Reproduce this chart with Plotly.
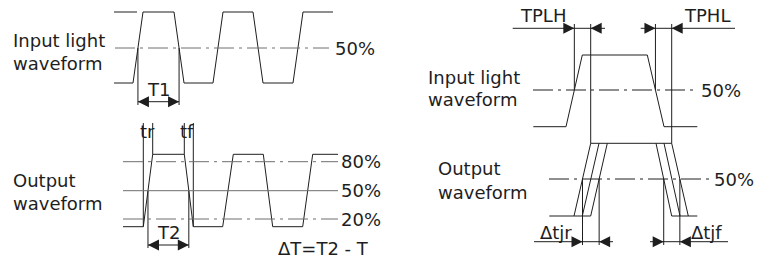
import plotly.graph_objects as go

W, H = 757, 266
FONT = "DejaVu Sans"
INK = "#1e1e1e"
GRAY = "#6e6e6e"
DASHDOT = "20px,5px,3px,5px"

# ---------------- data: waveform vertices (time, level) ----------------
# left, input light waveform
in_t = [114, 133, 143, 174, 184, 213, 223, 253, 263, 293, 303, 333]
in_lvl = [83, 83, 12, 12, 83, 83, 12, 12, 83, 83, 12, 12]
in_ref_t = [114, 137]          # high reference stub
in_half = 48                   # 50 % level

# left, output waveform
out_t = [123, 143.3, 152.7, 184.3, 193.3, 222.7, 233.3, 263.3, 272.7, 302.7, 312.7, 338]
out_lvl = [226.7, 226.7, 154.3, 154.3, 226.7, 226.7, 154.3, 154.3, 226.7, 226.7, 154.3, 154.3]
out_ref_levels = [161.7, 190.7, 219]
out_ref_labels = ["80%", "50%", "20%"]
out_ref_dash = [DASHDOT, "solid", DASHDOT]

# right, input light pulse
rin_t = [533.3, 566, 582.3, 647.3, 664, 697.3]
rin_lvl = [126.7, 126.7, 55, 55, 126.7, 126.7]
rin_half = 90

# right, output pulse with jitter (three rising / falling edges)
rout_hi, rout_lo, rout_half = 143.3, 216, 179
rise_bottom = [574, 582.3, 590.7]
rise_top = [590.7, 599, 607.3]
fall_top = [656, 664, 671.7]
fall_bottom = [671.7, 680, 688.3]
rout_lead = 549.3
rout_tail = 697.3

fig = go.Figure()
segs = {}


def seg(x0, y0, x1, y1, color=INK, dash="solid"):
    key = (color, dash)
    xs, ys = segs.setdefault(key, ([], []))
    xs += [x0, x1, None]
    ys += [y0, y1, None]


def poly(xs_, ys_, color=INK, dash="solid"):
    key = (color, dash)
    xs, ys = segs.setdefault(key, ([], []))
    xs += list(xs_) + [None]
    ys += list(ys_) + [None]


def text(x, y, s, anchor="left"):
    fig.add_annotation(x=x, y=y, text=s, showarrow=False, xanchor=anchor,
                       yanchor="middle", font=dict(family=FONT, size=18, color=INK))


def head(tip, y, direction):
    # direction +1: pointing right, -1: pointing left
    fig.add_annotation(x=tip, y=y, ax=tip - direction * 12, ay=y, axref="x", ayref="y",
                       xref="x", yref="y", text="", showarrow=True, arrowhead=2,
                       arrowsize=2.2, arrowwidth=1, arrowcolor=INK, standoff=0, startstandoff=0)


def cross(xa, ya, xb, yb, level):
    return xa + (xb - xa) * (level - ya) / (yb - ya)


# ---------------- left top: input light ----------------
poly(in_t, in_lvl)
seg(in_ref_t[0], in_lvl[2], in_ref_t[1], in_lvl[2])
seg(115, in_half, 329, in_half, GRAY, DASHDOT)
text(333, in_half, "50%")
t1a = cross(in_t[1], in_lvl[1], in_t[2], in_lvl[2], in_half)
t1b = cross(in_t[3], in_lvl[3], in_t[4], in_lvl[4], in_half)
seg(t1a, in_half, t1a, 105)
seg(t1b, in_half, t1b, 105)
seg(t1a, 101.7, t1b, 101.7)
head(t1a, 101.7, -1)
head(t1b, 101.7, 1)
text((t1a + t1b) / 2, 89, "T1", "center")
text(11, 40, "Input light")
text(11, 63, "waveform")

# ---------------- left bottom: output ----------------
poly(out_t, out_lvl)
for lv, lab, d in zip(out_ref_levels, out_ref_labels, out_ref_dash):
    seg(out_t[0], lv, out_t[-1], lv, GRAY, d)
    text(339, lv, lab)
seg(out_t[1], 123, out_t[1], out_lvl[1])
seg(out_t[2], 123, out_t[2], out_lvl[2])
seg(out_t[3], 123, out_t[3], out_lvl[3])
seg(out_t[4], 123, out_t[4], out_lvl[4])
text(147, 131, "tr", "center")
text(186.5, 131, "tf", "center")
half = out_ref_levels[1]
t2a = cross(out_t[1], out_lvl[1], out_t[2], out_lvl[2], half)
t2b = cross(out_t[3], out_lvl[3], out_t[4], out_lvl[4], half)
seg(t2a, half, t2a, 248)
seg(t2b, half, t2b, 248)
seg(t2a, 245, t2b, 245)
head(t2a, 245, -1)
head(t2b, 245, 1)
text((t2a + t2b) / 2, 232, "T2", "center")
text(276, 248, "ΔT=T2 - T")
text(11, 180, "Output")
text(11, 203, "waveform")

# ---------------- right top: input light ----------------
poly(rin_t, rin_lvl)
seg(533, rin_half, 697, rin_half, INK, DASHDOT)
text(699, rin_half, "50%")
plh = cross(rin_t[1], rin_lvl[1], rin_t[2], rin_lvl[2], rin_half)
phl = cross(rin_t[3], rin_lvl[3], rin_t[4], rin_lvl[4], rin_half)
seg(plh, 24, plh, rin_half)
seg(rise_top[0], 24, rise_top[0], rout_hi)
seg(phl, 24, phl, rin_half)
seg(fall_top[-1], 24, fall_top[-1], rout_hi)
seg(512.7, 28.3, 605, 28.3)
head(plh, 28.3, 1)
head(rise_top[0], 28.3, -1)
seg(640.7, 28.3, 735, 28.3)
head(phl, 28.3, 1)
head(fall_top[-1], 28.3, -1)
text(543, 15, "TPLH", "center")
text(706.5, 15, "TPHL", "center")
text(426, 77, "Input light")
text(426, 99, "waveform")

# ---------------- right bottom: output ----------------
seg(rise_top[0], rout_hi, fall_top[-1], rout_hi)
seg(rout_lead, rout_lo, rise_bottom[-1], rout_lo)
seg(fall_bottom[0], rout_lo, rout_tail, rout_lo)
for b, t in zip(rise_bottom, rise_top):
    seg(b, rout_lo, t, rout_hi)
for t, b in zip(fall_top, fall_bottom):
    seg(t, rout_hi, b, rout_lo)
seg(549, rout_half, 710, rout_half, INK, DASHDOT)
text(712, rout_half, "50%")
jr_a = cross(rise_bottom[0], rout_lo, rise_top[0], rout_hi, rout_half)
jr_b = cross(rise_bottom[-1], rout_lo, rise_top[-1], rout_hi, rout_half)
jf_a = cross(fall_top[0], rout_hi, fall_bottom[0], rout_lo, rout_half)
jf_b = cross(fall_top[-1], rout_hi, fall_bottom[-1], rout_lo, rout_half)
for xv in (jr_a, jr_b, jf_a, jf_b):
    seg(xv, rout_half, xv, 245)
seg(534, 241.7, 613, 241.7)
head(jr_a, 241.7, 1)
head(jr_b, 241.7, -1)
seg(650, 241.7, 728, 241.7)
head(jf_a, 241.7, 1)
head(jf_b, 241.7, -1)
text(555.5, 232, "Δtjr", "center")
text(706, 232, "Δtjf", "center")
text(436, 168, "Output")
text(436, 192, "waveform")

for (color, dash), (xs, ys) in segs.items():
    fig.add_trace(go.Scatter(x=xs, y=ys, mode="lines", hoverinfo="skip",
                             line=dict(color=color, width=1, dash=dash)))

fig.update_layout(
    width=W, height=H, margin=dict(l=0, r=0, t=0, b=0),
    paper_bgcolor="white", plot_bgcolor="white", showlegend=False,
    xaxis=dict(range=[0, W], visible=False, fixedrange=True),
    yaxis=dict(range=[H, 0], visible=False, fixedrange=True),
)
fig.write_html("out.html", config={"displayModeBar": False},
               post_script="document.body.style.margin='0';document.body.style.overflow='hidden';")
